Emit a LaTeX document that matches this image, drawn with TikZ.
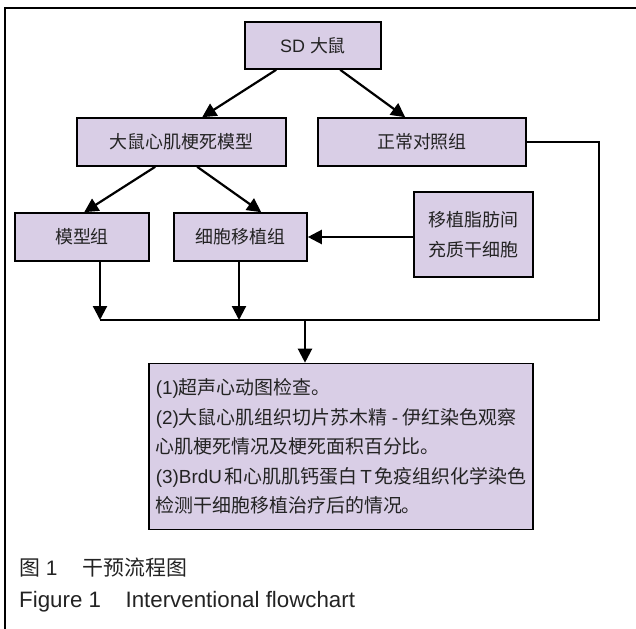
\documentclass[tikz,border=0pt]{standalone}
\usepackage{fontspec}
\setmainfont{Liberation Sans}
\newfontfamily\cjk{Noto Sans CJK SC}
\usetikzlibrary{arrows.meta,calc}
\definecolor{boxfill}{RGB}{217,206,230}
\definecolor{ink}{RGB}{35,35,35}
\newcommand{\zh}[1]{{\cjk #1}}
\begin{document}
\begin{tikzpicture}[x=1bp,y=-1bp,
  box/.style={draw=black, line width=1.6bp, fill=boxfill, inner sep=0pt, text=ink, font=\fontsize{18}{30}\selectfont, align=center},
  arr/.style={line width=2.2bp, -{Triangle[length=14bp,width=14bp]}},
  link/.style={line width=2.2bp},
  frame/.style={line width=1.6bp},
  captext/.style={anchor=west, inner sep=0pt, text=ink}]
\useasboundingbox (0,0) rectangle (636,629);
\draw[frame] (636,8) -- (5,8) -- (5,629);

\node[box, minimum width=136bp, minimum height=47bp] (sd) at (313,45.5) {SD \zh{大鼠}};
\node[box, minimum width=209bp, minimum height=48bp] (mi) at (181.5,142) {\zh{大鼠心肌梗死模型}};
\node[box, minimum width=208bp, minimum height=48bp] (nc) at (422,142) {\zh{正常对照组}};
\node[box, minimum width=134bp, minimum height=48bp] (mg) at (82,237) {\zh{模型组}};
\node[box, minimum width=133bp, minimum height=48bp] (cell) at (240.5,237) {\zh{细胞移植组}};
\node[box, minimum width=119bp, minimum height=85bp] (tr) at (473.5,234.5) {\zh{移植脂肪间}\\\zh{充质干细胞}};
\node[box, minimum width=384bp, minimum height=166bp, align=left, font=\fontsize{19}{29.5}\selectfont] (res) at (341,446.5)
  {(1)\zh{超声心动图检查。}\\
   (2)\zh{大鼠心肌组织切片苏木精}\hspace{0.25em}-\hspace{0.25em}\zh{伊红染色观察}\\
   \zh{心肌梗死情况及梗死面积百分比。}\\
   (3)BrdU\hspace{0.15em}\zh{和心肌肌钙蛋白}\hspace{0.15em}T\hspace{0.15em}\zh{免疫组织化学染色}\\
   \zh{检测干细胞移植治疗后的情况。}};

\coordinate (jl) at (100,320);
\coordinate (jc) at (239,320);
\coordinate (jm) at (305,320);
\coordinate (jr) at (599,320);

\draw[arr] ($(sd.south west)+(32,0)$) -- ($(mi.north west)+(126,0)$);
\draw[arr] ($(sd.south west)+(96,0)$) -- ($(nc.north west)+(88,0)$);
\draw[arr] ($(mi.south west)+(79,0)$) -- ($(mg.north west)+(70,0)$);
\draw[arr] ($(mi.south west)+(121,0)$) -- ($(cell.north west)+(88,0)$);
\draw[arr] (tr.west |- cell.east) -- (cell.east);
\draw[link] (nc.east) -- (nc.east -| jr) -- (jr) -- (jl);
\draw[arr] (mg.south -| jl) -- (jl);
\draw[arr] (cell.south -| jc) -- (jc);
\draw[arr] (jm) -- (jm |- res.north);

\node[captext, font=\fontsize{21}{24}\selectfont] (cap1) at (19,568) {\zh{图} 1\hspace{1.2em}\zh{干预流程图}};
\node[captext, font=\fontsize{22.4}{24}\selectfont] (cap2) at (19,602) {Figure 1\hspace{1.1em}Interventional flowchart};
\end{tikzpicture}
\end{document}
